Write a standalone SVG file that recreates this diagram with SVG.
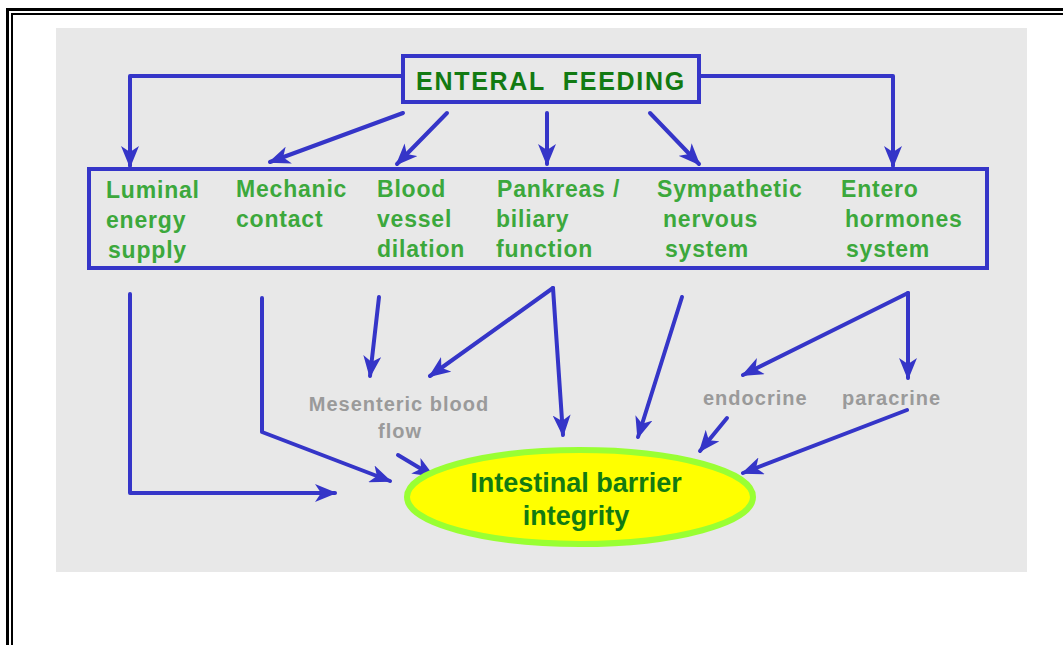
<svg xmlns="http://www.w3.org/2000/svg" width="1063" height="645" viewBox="0 0 1063 645">
<defs>
<style>
.c{fill:none;stroke:#3535c8;stroke-width:4;stroke-linecap:round;stroke-linejoin:round}
.box{fill:none;stroke:#3535c8;stroke-width:4}
.t{font-family:"Liberation Sans",Arial,sans-serif;font-weight:bold;font-size:23px;fill:#3ca83c;letter-spacing:0.8px}
.g{font-family:"Liberation Sans",Arial,sans-serif;font-weight:bold;font-size:20px;fill:#9a9a9a;letter-spacing:1px}
</style>
<marker id="ah" viewBox="0 0 22 18" refX="20" refY="9" markerWidth="22" markerHeight="18" markerUnits="userSpaceOnUse" orient="auto">
<path d="M0,0 L22,9 L0,18 L6,9 Z" fill="#3535c8"/>
</marker>
</defs>
<rect width="1063" height="645" fill="#ffffff"/>
<rect x="56" y="28" width="971" height="544" fill="#e8e8e8"/>
<path d="M7.5,645 V9.5 H1063" fill="none" stroke="#000" stroke-width="3"/>
<path d="M12,645 V14 H1063" fill="none" stroke="#000" stroke-width="2"/>
<g id="connectors">
<path class="c" d="M402,76 H130 V166" marker-end="url(#ah)"/>
<path class="c" d="M700,76 H893 V166" marker-end="url(#ah)"/>
<path class="c" d="M403,113 L270,162" marker-end="url(#ah)"/>
<path class="c" d="M447,113 L397,164" marker-end="url(#ah)"/>
<path class="c" d="M547,113 V164" marker-end="url(#ah)"/>
<path class="c" d="M650,113 L699,164" marker-end="url(#ah)"/>
<path class="c" d="M130,294 V493 H335" marker-end="url(#ah)"/>
<path class="c" d="M262,298 V432 L390,481" marker-end="url(#ah)"/>
<path class="c" d="M379,297 L370,376" marker-end="url(#ah)"/>
<path class="c" d="M553,288 L430,376" marker-end="url(#ah)"/>
<path class="c" d="M553,288 L563,435" marker-end="url(#ah)"/>
<path class="c" d="M398,455 L433,476" marker-end="url(#ah)"/>
<path class="c" d="M682,297 L638,437" marker-end="url(#ah)"/>
<path class="c" d="M908,293 L743,375" marker-end="url(#ah)"/>
<path class="c" d="M908,293 V378" marker-end="url(#ah)"/>
<path class="c" d="M727,418 L700,451" marker-end="url(#ah)"/>
<path class="c" d="M907,410 L743,473" marker-end="url(#ah)"/>
</g>
<g id="enteral-feeding">
<rect class="box" x="403" y="56" width="296" height="46"/>
<text x="551" y="90" text-anchor="middle" style="font-family:'Liberation Sans',Arial,sans-serif;font-weight:bold;font-size:25px;fill:#127a12;letter-spacing:1.7px" xml:space="preserve">ENTERAL  FEEDING</text>
</g>
<g id="factors">
<rect class="box" x="89" y="169" width="898" height="99"/>
</g>
<g id="luminal"><text class="t" x="106" y="198">Luminal<tspan x="106" dy="30">energy</tspan><tspan x="108" dy="30">supply</tspan></text></g>
<g id="mechanic"><text class="t" x="236" y="197">Mechanic<tspan x="236" dy="30">contact</tspan></text></g>
<g id="blood"><text class="t" x="377" y="197">Blood<tspan x="377" dy="30">vessel</tspan><tspan x="377" dy="30">dilation</tspan></text></g>
<g id="pankreas"><text class="t" x="497" y="197">Pankreas /<tspan x="496" dy="30">biliary</tspan><tspan x="496" dy="30">function</tspan></text></g>
<g id="sympathetic"><text class="t" x="657" y="197">Sympathetic<tspan x="663" dy="30">nervous</tspan><tspan x="665" dy="30">system</tspan></text></g>
<g id="entero"><text class="t" x="841" y="197">Entero<tspan x="845" dy="30">hormones</tspan><tspan x="846" dy="30">system</tspan></text></g>
<g id="mesenteric"><text class="g" x="399" y="411" text-anchor="middle">Mesenteric blood<tspan x="400" dy="27">flow</tspan></text></g>
<g id="endocrine"><text class="g" x="703" y="405">endocrine</text></g>
<g id="paracrine"><text class="g" x="842" y="405">paracrine</text></g>
<g id="barrier">
<ellipse cx="580" cy="497" rx="173" ry="47" fill="#ffff00" stroke="#99ff33" stroke-width="6"/>
<text x="576" y="492" text-anchor="middle" style="font-family:'Liberation Sans',Arial,sans-serif;font-weight:bold;font-size:27px;fill:#127a12">Intestinal barrier<tspan x="576" dy="33">integrity</tspan></text>
</g>
</svg>
